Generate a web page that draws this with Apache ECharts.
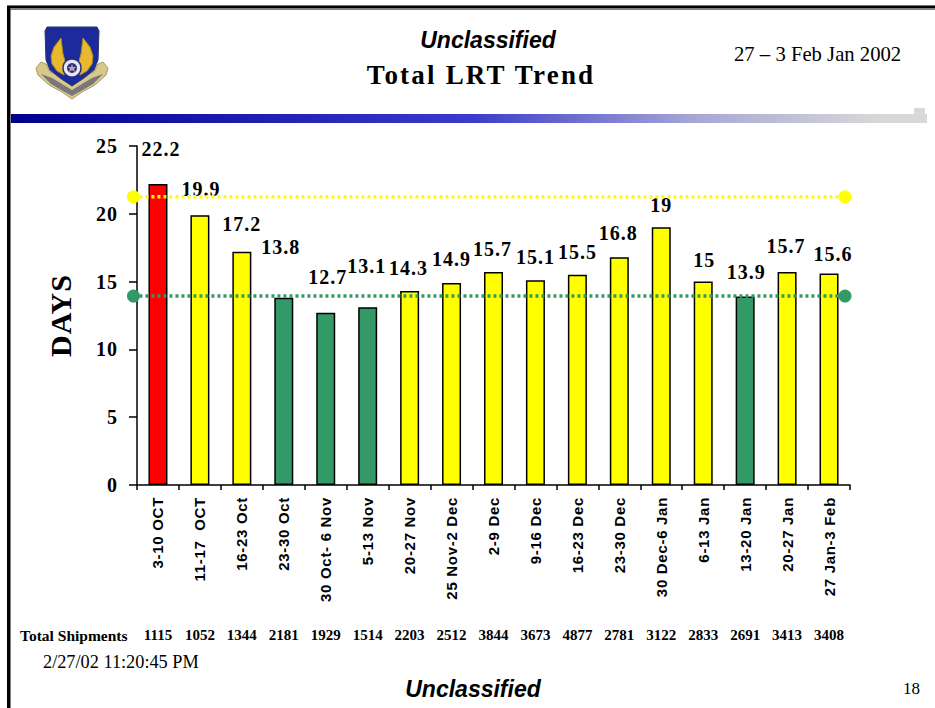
<!DOCTYPE html>
<html>
<head>
<meta charset="utf-8">
<title>Total LRT Trend</title>
<style>
  html, body { margin: 0; padding: 0; background: #fff; }
  #chart { width: 935px; height: 708px; }
  /* the slide spreads its bold text out, canvas text can't do this so we use svg */
  #chart text[style*="20px"] { letter-spacing: 1px; }
  #chart text[style*="27px"] { letter-spacing: 2.2px; }
  #chart text[style*="30px"] { letter-spacing: 1px; }
  #chart text[style*="15px"][style*="Sans"] { letter-spacing: 0.7px; }
</style>
</head>
<body>
<div id="chart"></div>
<script src="https://cdn.jsdelivr.net/npm/echarts@6/dist/echarts.min.js"></script>
<script>
const categories = ['3-10 OCT', '11-17  OCT', '16-23 Oct', '23-30 Oct', '30 Oct- 6 Nov', '5-13 Nov', '20-27 Nov', '25 Nov-2 Dec', '2-9 Dec', '9-16 Dec', '16-23 Dec', '23-30 Dec', '30 Dec-6 Jan', '6-13 Jan', '13-20 Jan', '20-27 Jan', '27 Jan-3 Feb'];
const days = [22.2, 19.9, 17.2, 13.8, 12.7, 13.1, 14.3, 14.9, 15.7, 15.1, 15.5, 16.8, 19, 15, 13.9, 15.7, 15.6];
const status = ['red', 'yellow', 'yellow', 'green', 'green', 'green', 'yellow', 'yellow', 'yellow', 'yellow', 'yellow', 'yellow', 'yellow', 'yellow', 'green', 'yellow', 'yellow'];
const shipments = ['1115', '1052', '1344', '2181', '1929', '1514', '2203', '2512', '3844', '3673', '4877', '2781', '3122', '2833', '2691', '3413', '3408'];
const upperGoal = 21.25;
const lowerGoal = 13.93;
const dayTicks = [0, 5, 10, 15, 20, 25];

const statusColor = { red: '#ff0000', yellow: '#ffff00', green: '#339966' };
// hand placed labels, the slide nudged them about
const labelOffset = [[3, -25], [1, -16], [0, -18], [-3, -41], [2, -26], [-1, -31], [-1, -13], [0, -14], [-1, -13], [0, -13], [0, -13], [-1, -14], [0, -12], [1, -12], [1, -15], [-1, -16], [4, -9]];

const SERIF = '"Liberation Serif"';
const SANS = '"Liberation Sans"';

function txt(text, x, y, font, align) {
  return {
    type: 'text', x, y, z: 10,
    style: { text, font, fill: '#000', textAlign: align || 'left', textVerticalAlign: 'middle' },
  };
}
function poly(points, fill, stroke) {
  return { type: 'polygon', z: 5, shape: { points }, style: { fill, stroke: stroke || null, lineWidth: 1 } };
}
function box(x, y, width, height, fill) {
  return { type: 'rect', z: 1, shape: { x, y, width, height }, style: { fill } };
}
function dots(x1, y1, x2, y2) {
  return { type: 'line', z: 1, shape: { x1, y1, x2, y2 }, style: { stroke: '#000', lineWidth: 1, lineDash: [1, 1] } };
}

const logo = [
  // scroll behind the shield
  poly([[36, 68], [41, 62], [46, 64], [50, 72], [94, 72], [98, 64], [103, 62], [108, 68], [106, 75], [95, 85], [82, 92], [72, 99], [62, 92], [49, 85], [38, 75]], '#d8c88a', '#a89a60'),
  poly([[41, 74], [52, 78], [72, 90], [92, 78], [103, 74], [93, 84], [81, 91], [72, 96], [63, 91], [51, 84]], '#77777c'),
  // shield
  poly([[47, 27], [97, 27], [99, 31], [98, 60], [94, 70], [84, 78], [72, 86], [60, 78], [50, 70], [46, 60], [45, 31]], '#1c2a9c', '#2c3466'),
  // wings
  poly([[61, 38], [62, 46], [63, 54], [65, 61], [68, 69], [64, 75], [57, 71], [52, 64], [51, 56], [54, 47]], '#e9b82e', '#a98a24'),
  poly([[83, 38], [82, 46], [81, 54], [79, 61], [76, 69], [80, 75], [87, 71], [92, 64], [93, 56], [90, 47]], '#e9b82e', '#a98a24'),
  // gear and star
  { type: 'circle', z: 6, shape: { cx: 72, cy: 68, r: 9 }, style: { fill: '#e4e7f4', stroke: '#27307c', lineWidth: 1.5 } },
  { type: 'circle', z: 7, shape: { cx: 72, cy: 68, r: 5 }, style: { fill: '#2b3480' } },
  poly([[72, 64], [73, 67], [76, 67], [74, 69], [75, 72], [72, 70], [69, 72], [70, 69], [68, 67], [71, 67]], '#c9a0a0'),
];
logo.slice(5).forEach((el) => { el.z = 8; });

const chart = echarts.init(document.getElementById('chart'), null, { renderer: 'svg' });
chart.setOption({
  animation: false,
  backgroundColor: '#fff',
  grid: { left: 137, right: 85, top: 146, bottom: 223 },
  xAxis: [
    {
      type: 'category',
      data: categories,
      axisLine: { lineStyle: { color: '#000', width: 1.5 } },
      axisTick: { show: true, length: 5, lineStyle: { color: '#000', width: 1.5 } },
      axisLabel: { interval: 0, rotate: 90, margin: 12, color: '#000', fontFamily: SANS, fontWeight: 'bold', fontSize: 15 },
    },
    // only here to span the goal lines across the plot
    { type: 'value', min: 0, max: 1, show: false },
    // shipments row sits under each week
    {
      type: 'category',
      position: 'bottom',
      offset: 134,
      data: shipments,
      axisLine: { show: false },
      axisTick: { show: false },
      axisLabel: { interval: 0, color: '#000', fontFamily: SERIF, fontWeight: 'bold', fontSize: 15 },
    },
  ],
  yAxis: {
    type: 'value',
    min: dayTicks[0],
    max: dayTicks[dayTicks.length - 1],
    interval: 5,
    name: 'DAYS',
    nameLocation: 'middle',
    nameRotate: 90,
    nameGap: 62,
    nameTextStyle: { color: '#000', fontFamily: SERIF, fontWeight: 'bold', fontSize: 30 },
    splitLine: { show: false },
    axisLine: { show: true, lineStyle: { color: '#000', width: 1.5 } },
    axisTick: { show: true, length: 8, lineStyle: { color: '#000', width: 1.5 } },
    axisLabel: { margin: 19, color: '#000', fontFamily: SERIF, fontWeight: 'bold', fontSize: 20 },
  },
  series: [
    {
      type: 'bar',
      barWidth: 19,
      data: days.map((v, i) => ({
        value: v,
        itemStyle: { color: statusColor[status[i]], borderColor: '#000', borderWidth: 1.5 },
        label: { offset: labelOffset[i] },
      })),
      label: { show: true, position: 'top', distance: 0, color: '#000', fontFamily: SERIF, fontWeight: 'bold', fontSize: 20 },
    },
    {
      type: 'line',
      xAxisIndex: 1,
      clip: false,
      z: 5,
      symbol: 'circle',
      symbolSize: 13,
      itemStyle: { color: '#ffff00' },
      lineStyle: { color: '#ffff00', width: 3.5, type: [3, 3] },
      data: [[-0.005, upperGoal], [0.993, upperGoal]],
    },
    {
      type: 'line',
      xAxisIndex: 1,
      clip: false,
      z: 5,
      symbol: 'circle',
      symbolSize: 13,
      itemStyle: { color: '#339966' },
      lineStyle: { color: '#339966', width: 3.5, type: [3, 3] },
      data: [[-0.005, lowerGoal], [0.993, lowerGoal]],
    },
  ],
  graphic: [
    // slide frame
    box(7, 5, 928, 1, '#777'),
    box(7, 6, 928, 2.5, '#000'),
    box(7, 6, 3, 702, '#000'),
    dots(10.5, 9.5, 935, 9.5),
    dots(10.5, 9.5, 10.5, 708),
    // header band
    {
      type: 'rect', z: 1,
      shape: { x: 11, y: 114, width: 916, height: 9 },
      style: {
        fill: new echarts.graphic.LinearGradient(0, 0, 1, 0, [
          { offset: 0, color: '#00008f' },
          { offset: 0.5, color: '#3a3acb' },
          { offset: 0.75, color: '#a8a8d6' },
          { offset: 0.95, color: '#d8d8d8' },
          { offset: 1, color: '#d8d8d8' },
        ]),
      },
    },
    box(914, 108, 11, 6, '#d8d8d8'),
    ...logo,
    txt('Unclassified', 488, 40, 'italic bold 23px ' + SANS, 'center'),
    txt('Total LRT Trend', 481, 75, 'bold 27px ' + SERIF, 'center'),
    txt('27 – 3 Feb Jan 2002', 734, 54, '20.7px ' + SERIF),
    txt('Total Shipments', 20, 635, 'bold 15.5px ' + SERIF),
    txt('2/27/02 11:20:45 PM', 43, 662, '18.3px ' + SERIF),
    txt('Unclassified', 473, 689, 'italic bold 23px ' + SANS, 'center'),
    txt('18', 903, 688, '17px ' + SERIF),
  ],
});
</script>
</body>
</html>
